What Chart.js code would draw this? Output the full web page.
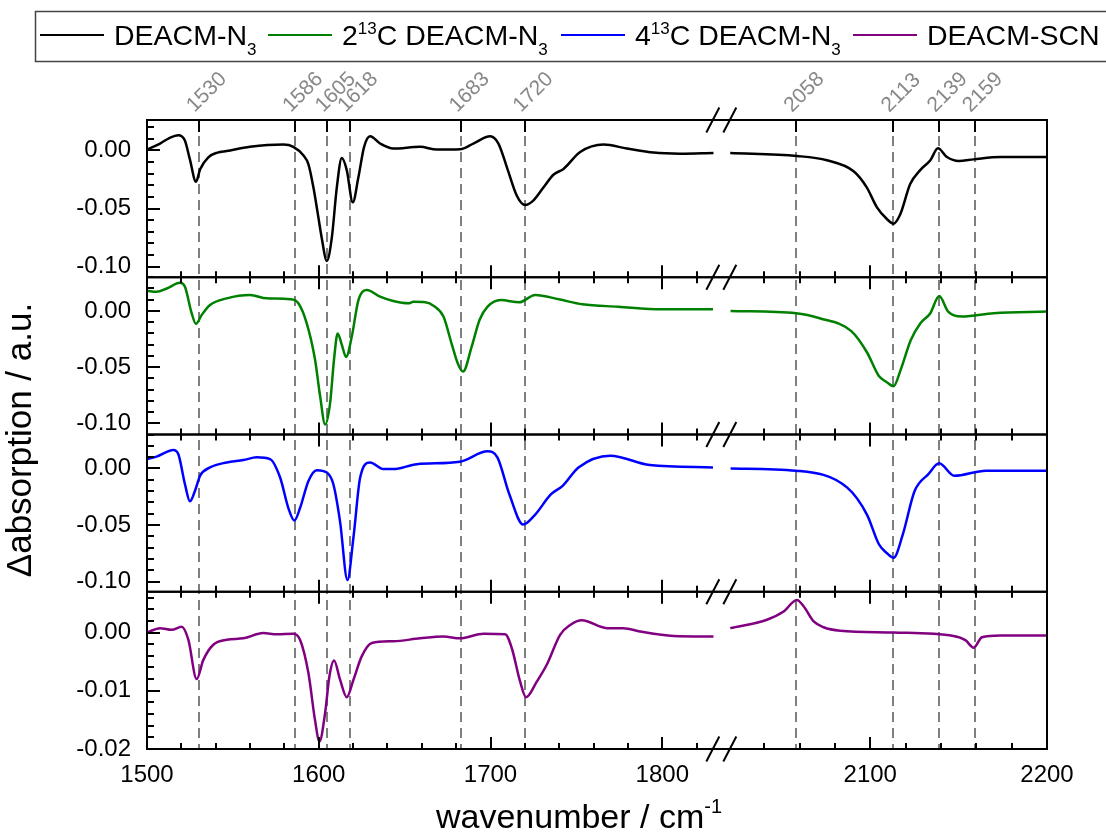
<!DOCTYPE html>
<html>
<head>
<meta charset="utf-8">
<script src="https://cdn.jsdelivr.net/npm/chart.js@4.4.1/dist/chart.umd.min.js"></script>
<style>
  html, body { margin: 0; padding: 0; background: #ffffff; }
  #wrap { width: 1106px; height: 832px; position: relative; }
</style>
</head>
<body>
<div id="wrap"><canvas id="chart" width="1106" height="832"></canvas></div>
<script>
// ---- Spectra: wavenumber (cm^-1) and difference absorption for each sample ----
const n3Wn  = [1500, 1507.6, 1513, 1518.2, 1522, 1525, 1528.5, 1531, 1535.7, 1541, 1546.4, 1560, 1579.4, 1585.2, 1591, 1594, 1596.9, 1599.5, 1601.7, 1604.7, 1607.6, 1610.5, 1613.4, 1616.3, 1619.8, 1623.1, 1626.4, 1629.9, 1635.7, 1643.4, 1659, 1668.7, 1682.3, 1690, 1699.8, 1704.6, 1709.5, 1715.3, 1720.2, 1725, 1730.8, 1736.6, 1742.5, 1752.2, 1765.8, 1779.4, 1794.9, 1810.4, 1829.8,
               2020.8, 2058.5, 2075.5, 2090.6, 2098.1, 2103.8, 2109.4, 2113.2, 2117, 2122.6, 2128.3, 2134, 2138.3, 2143.4, 2150, 2158.5, 2173.6, 2200];
const n3Abs = [0.0006, 0.0058, 0.0105, 0.013, 0.0086, -0.008, -0.027, -0.016, -0.006, -0.002, -0.0006, 0.003, 0.0049, 0.003, -0.0043, -0.012, -0.032, -0.055, -0.075, -0.095, -0.075, -0.032, -0.0066, -0.017, -0.0447, -0.023, 0.003, 0.012, 0.0058, 0.0015, 0.003, 0.0006, 0.0009, 0.0058, 0.012, 0.0058, -0.0144, -0.039, -0.047, -0.043, -0.032, -0.021, -0.016, -0.0015, 0.0049, 0.0015, -0.002, -0.0029, -0.0023,
               -0.0023, -0.0049, -0.0086, -0.018, -0.032, -0.049, -0.059, -0.063, -0.055, -0.029, -0.017, -0.0086, 0.0017, -0.0058, -0.0092, -0.0078, -0.0058, -0.0058];

const c2Wn  = [1500, 1505.6, 1511.5, 1519.2, 1522.1, 1526, 1528.5, 1531.9, 1536.7, 1546.4, 1560, 1569.7, 1583.3, 1588.1, 1593, 1597.8, 1600.8, 1603.7, 1606.6, 1608.9, 1611, 1613.4, 1615.9, 1619.2, 1623.1, 1628, 1635.7, 1643.4, 1652.2, 1655.1, 1662, 1667, 1672.6, 1677.5, 1681, 1684, 1689, 1693.6, 1698.3, 1706, 1716.7, 1726, 1739.7, 1753.5, 1774.3, 1799.5, 1829.5,
               2021, 2058, 2071.4, 2089.3, 2098.2, 2104.9, 2109, 2113.2, 2117.3, 2122.9, 2128.4, 2134, 2139, 2144.1, 2151.9, 2169.9, 2200];
const c2Abs = [0.018, 0.017, 0.020, 0.025, 0.0215, -0.002, -0.0115, -0.0035, 0.0053, 0.0112, 0.0142, 0.0112, 0.0104, 0.0068, -0.011, -0.043, -0.076, -0.101, -0.082, -0.043, -0.020, -0.030, -0.041, -0.023, 0.0097, 0.0186, 0.0127, 0.0088, 0.0068, 0.0082, 0.0078, 0.0045, -0.005, -0.030, -0.047, -0.054, -0.032, -0.008, 0.0038, 0.0097, 0.0077, 0.0142, 0.0104, 0.0059, 0.0038, 0.0015, 0.0015,
               0.0, -0.002, -0.0065, -0.018, -0.037, -0.058, -0.063, -0.067, -0.052, -0.026, -0.011, -0.002, 0.0133, -0.0006, -0.005, -0.002, -0.0006];

const c4Wn  = [1500, 1505.6, 1515.3, 1518.2, 1522.1, 1525, 1527.9, 1530.9, 1536.7, 1546.4, 1556.1, 1563.9, 1571.6, 1577.5, 1582.3, 1585.8, 1589.1, 1594, 1598.8, 1604.7, 1608.5, 1612.4, 1616.7, 1620.2, 1624.1, 1629.9, 1637.6, 1643.4, 1657.1, 1682.2, 1698.3, 1704, 1711, 1719, 1725.9, 1735.1, 1742, 1751.2, 1769.7, 1792.7, 1829.5,
               2021, 2058, 2087, 2098.2, 2104.9, 2109.5, 2113.2, 2118.4, 2125.1, 2132.9, 2139, 2147.5, 2165.4, 2200];
const c4Abs = [0.0083, 0.0104, 0.0163, 0.0127, -0.014, -0.029, -0.020, -0.0065, 0.0009, 0.0053, 0.0074, 0.0098, 0.0083, -0.008, -0.035, -0.046, -0.035, -0.011, -0.0015, -0.0036, -0.014, -0.047, -0.0986, -0.061, -0.008, 0.0053, -0.0006, -0.0006, 0.0038, 0.006, 0.0151, 0.0098, -0.023, -0.0496, -0.041, -0.023, -0.0154, 0.0009, 0.0113, 0.003, 0.0009,
               0.0, -0.002, -0.017, -0.041, -0.067, -0.075, -0.079, -0.0585, -0.020, -0.005, 0.0045, -0.0065, -0.002, -0.002];

const scnWn  = [1500, 1507.6, 1514.4, 1520.2, 1524.1, 1528.9, 1532.8, 1538.6, 1546.4, 1556.1, 1567.7, 1575.5, 1585.2, 1589.1, 1594, 1597.8, 1600.4, 1603.7, 1606.2, 1608.9, 1612.4, 1616.3, 1620.2, 1625, 1630.9, 1643.4, 1659, 1672.6, 1682.3, 1695.9, 1708.5, 1712.4, 1717.2, 1720.7, 1727, 1732.8, 1740.5, 1746.4, 1753.2, 1767.7, 1777.4, 1787.1, 1806.5, 1829.8,
                2020.8, 2041.6, 2051, 2058.5, 2062.3, 2068, 2073.6, 2083, 2113.2, 2147.1, 2153.8, 2158.5, 2163.2, 2173.6, 2200];
const scnAbs = [0.0, 0.00075, 0.00046, 0.001, -0.00125, -0.008, -0.0047, -0.0021, -0.00125, -0.001, -0.0001, -0.0003, -0.0002, -0.00125, -0.007, -0.015, -0.0187, -0.0138, -0.0075, -0.0048, -0.0081, -0.0111, -0.0081, -0.0041, -0.0018, -0.0015, -0.001, -0.0007, -0.001, -0.0002, -0.0003, -0.0027, -0.0084, -0.0111, -0.0084, -0.0055, -0.0004, 0.0013, 0.0021, 0.00075, 0.00075, 0.00017, -0.0006, -0.0007,
                0.00075, 0.0022, 0.0036, 0.0056, 0.0045, 0.0019, 0.0009, 0.0003, 0.0, -0.0006, -0.0013, -0.0026, -0.0008, -0.0005, -0.0005];

// ---- Legend / axis text ----
const seriesNames = ['DEACM-N_{3}', '2^{13}C DEACM-N_{3}', '4^{13}C DEACM-N_{3}', 'DEACM-SCN'];
const seriesColors = ['#000000', '#008000', '#0000ff', '#800080'];
const xTitle = 'wavenumber / cm^{-1}';
const yTitle = '\u0394absorption / a.u.';

// ---- Marked band positions (cm^-1) ----
const refLines = [1530, 1586, 1605, 1618, 1683, 1720, 2058, 2113, 2139, 2159];

// ---- Tick definitions ----
const xMajorTicks = [1500, 1600, 1700, 1800, 2100, 2200];
const xMinorStep = 20;
const yMajorTicksN3 = [0.00, -0.05, -0.10];
const yMajorTicksSCN = [0.00, -0.01, -0.02];

// ---- Broken wavenumber axis: two segments joined by a short gap ----
const SEG_LEFT = [1500, 1830];
const SEG_RIGHT = [2020, 2200];
const K_LEFT = 1.717, K_RIGHT = 1.767, GAP = 15;
const U_LEFT_END = (SEG_LEFT[1] - SEG_LEFT[0]) * K_LEFT;
const U_RIGHT_START = U_LEFT_END + GAP;
const U_MAX = U_RIGHT_START + (SEG_RIGHT[1] - SEG_RIGHT[0]) * K_RIGHT;

function toAxis(w) {
  if (w <= SEG_LEFT[1] + 0.5) return (w - SEG_LEFT[0]) * K_LEFT;
  return U_RIGHT_START + (w - SEG_RIGHT[0]) * K_RIGHT;
}
function fromAxis(u) {
  if (u <= U_LEFT_END + GAP / 2) return SEG_LEFT[0] + u / K_LEFT;
  return SEG_RIGHT[0] + (u - U_RIGHT_START) / K_RIGHT;
}

function buildPoints(wn, abs) {
  const pts = [];
  for (let i = 0; i < wn.length; i++) {
    if (i > 0 && wn[i - 1] <= SEG_LEFT[1] + 0.5 && wn[i] >= SEG_RIGHT[0] - 0.5) {
      pts.push({ x: U_LEFT_END + GAP / 2, y: null });
    }
    pts.push({ x: toAxis(wn[i]), y: abs[i] });
  }
  return pts;
}

const FONT = '"Liberation Sans", Arial, Helvetica, sans-serif';

// ---- Rich text with ^{..} superscripts and _{..} subscripts ----
function parseRich(str) {
  const parts = [];
  const re = /(\^\{([^}]*)\})|(_\{([^}]*)\})|([^\^_]+)/g;
  let m;
  while ((m = re.exec(str)) !== null) {
    if (m[2] !== undefined) parts.push({ t: m[2], mode: 'sup' });
    else if (m[4] !== undefined) parts.push({ t: m[4], mode: 'sub' });
    else parts.push({ t: m[5], mode: 'n' });
  }
  return parts;
}
function richWidth(ctx, parts, size, small) {
  let w = 0;
  parts.forEach(p => {
    ctx.font = (p.mode === 'n' ? size : small) + 'px ' + FONT;
    w += ctx.measureText(p.t).width;
  });
  return w;
}
function drawRich(ctx, parts, x, y, size, small, supDy, subDy) {
  parts.forEach(p => {
    ctx.font = (p.mode === 'n' ? size : small) + 'px ' + FONT;
    const dy = p.mode === 'sup' ? -supDy : (p.mode === 'sub' ? subDy : 0);
    ctx.fillText(p.t, x, y + dy);
    x += ctx.measureText(p.t).width;
  });
  return x;
}

function minorValues(min, max, step) {
  const out = [];
  const a = Math.ceil(min / step - 1e-9), b = Math.floor(max / step + 1e-9);
  for (let i = a; i <= b; i++) out.push(+(i * step).toFixed(6));
  return out;
}

const panelIds = ['p1', 'p2', 'p3', 'p4'];
const panelMinor = { p1: 0.01, p2: 0.01, p3: 0.01, p4: 0.002 };

const frameAndLabels = {
  id: 'frameAndLabels',
  beforeDatasetsDraw(chart) {
    const { ctx, chartArea, scales } = chart;
    ctx.save();
    ctx.strokeStyle = '#7f7f7f';
    ctx.lineWidth = 2;
    ctx.setLineDash([10, 6]);
    refLines.forEach(w => {
      const x = Math.round(scales.x.getPixelForValue(toAxis(w)));
      ctx.beginPath();
      ctx.moveTo(x, chartArea.top);
      ctx.lineTo(x, chartArea.bottom);
      ctx.stroke();
    });
    ctx.restore();
  },
  afterDatasetsDraw(chart) {
    const { ctx, chartArea, scales } = chart;
    const xs = scales.x;
    const L = chartArea.left, R = chartArea.right;
    ctx.save();
    ctx.strokeStyle = '#000';
    ctx.lineWidth = 2;
    ctx.lineCap = 'butt';

    const xMinor = [];
    [SEG_LEFT, SEG_RIGHT].forEach(seg => {
      for (let w = Math.ceil(seg[0] / xMinorStep) * xMinorStep; w <= seg[1]; w += xMinorStep) {
        if (w === SEG_RIGHT[0]) continue;
        if (!xMajorTicks.includes(w)) xMinor.push(w);
      }
    });

    panelIds.forEach((id, idx) => {
      const s = scales[id];
      const top = s.top, bottom = s.bottom;
      // frame
      ctx.strokeRect(L, top, R - L, bottom - top);
      // x ticks, pointing into the panel
      const tick = (w, len) => {
        const x = Math.round(xs.getPixelForValue(toAxis(w)));
        ctx.beginPath();
        ctx.moveTo(x, bottom); ctx.lineTo(x, bottom - len);
        if (idx > 0) { ctx.moveTo(x, top); ctx.lineTo(x, top + len); }
        ctx.stroke();
      };
      xMajorTicks.forEach(w => tick(w, 12));
      xMinor.forEach(w => tick(w, 6));
      if (idx === 0) {
        refLines.forEach(w => {
          const x = Math.round(xs.getPixelForValue(toAxis(w)));
          ctx.beginPath(); ctx.moveTo(x, top); ctx.lineTo(x, top + 12); ctx.stroke();
        });
      }
      // y ticks
      const majors = id === 'p4' ? yMajorTicksSCN : yMajorTicksN3;
      minorValues(s.min, s.max, panelMinor[id]).forEach(v => {
        const isMajor = majors.some(m => Math.abs(m - v) < 1e-6);
        const y = Math.round(s.getPixelForValue(v));
        ctx.beginPath(); ctx.moveTo(L, y); ctx.lineTo(L + (isMajor ? 13 : 7), y); ctx.stroke();
      });
    });

    // axis-break marks
    const xb1 = xs.getPixelForValue(U_LEFT_END) - 1;
    const xb2 = xs.getPixelForValue(U_RIGHT_START) + 1;
    const rows = [scales.p1.top].concat(panelIds.map(id => scales[id].bottom));
    rows.forEach(y => {
      [xb1, xb2].forEach(cx => {
        ctx.beginPath();
        ctx.moveTo(cx - 6.5, y + 12.5);
        ctx.lineTo(cx + 6.5, y - 12.5);
        ctx.stroke();
      });
    });
    ctx.restore();
  },
  afterDraw(chart) {
    const { ctx, scales } = chart;
    ctx.save();

    // band labels above the top panel
    ctx.fillStyle = '#888888';
    ctx.font = '21px ' + FONT;
    ctx.textAlign = 'left';
    ctx.textBaseline = 'alphabetic';
    refLines.forEach(w => {
      const x = scales.x.getPixelForValue(toAxis(w));
      ctx.save();
      ctx.translate(x - 4, 113);
      ctx.rotate(-Math.PI / 4);
      ctx.fillText(String(w), 0, 0);
      ctx.restore();
    });

    // legend box
    ctx.strokeStyle = '#444';
    ctx.lineWidth = 1.5;
    ctx.strokeRect(35.5, 11.5, 1100, 50);
    const lineStarts = [40, 268, 561, 853];
    ctx.fillStyle = '#000';
    seriesNames.forEach((name, i) => {
      const x0 = lineStarts[i];
      ctx.strokeStyle = seriesColors[i];
      ctx.lineWidth = 2;
      ctx.beginPath(); ctx.moveTo(x0, 35); ctx.lineTo(x0 + 64, 35); ctx.stroke();
      drawRich(ctx, parseRich(name), x0 + 74, 45, 28.5, 17, 11, 10);
    });

    // x title
    const xParts = parseRich(xTitle);
    const xw = richWidth(ctx, xParts, 34, 20);
    drawRich(ctx, xParts, 579 - xw / 2, 828, 34, 20, 15, 8);

    // y title
    ctx.save();
    ctx.translate(31, 440);
    ctx.rotate(-Math.PI / 2);
    ctx.font = '35px ' + FONT;
    ctx.textAlign = 'center';
    ctx.fillText(yTitle, 0, 0);
    ctx.restore();

    ctx.restore();
  }
};

function panelAxis(min, max, majors) {
  return {
    type: 'linear', position: 'left', stack: 'panels', stackWeight: 1,
    min: min, max: max, offset: false,
    grid: { display: false, drawTicks: false },
    border: { display: false },
    afterBuildTicks: s => { s.ticks = majors.map(v => ({ value: v })); },
    afterFit: s => { s.width = 147; },
    ticks: { padding: 16, color: '#000', font: { family: FONT, size: 24 }, callback: v => Number(v).toFixed(2) }
  };
}

const seriesData = [
  { wn: n3Wn, abs: n3Abs, axis: 'p1' },
  { wn: c2Wn, abs: c2Abs, axis: 'p2' },
  { wn: c4Wn, abs: c4Abs, axis: 'p3' },
  { wn: scnWn, abs: scnAbs, axis: 'p4' }
];

new Chart(document.getElementById('chart'), {
  type: 'line',
  data: {
    datasets: seriesData.map((s, i) => ({
      label: seriesNames[i],
      data: buildPoints(s.wn, s.abs),
      borderColor: seriesColors[i],
      borderWidth: 2.5,
      pointRadius: 0,
      fill: false,
      spanGaps: false,
      cubicInterpolationMode: 'monotone',
      xAxisID: 'x',
      yAxisID: s.axis
    }))
  },
  options: {
    responsive: false,
    animation: false,
    devicePixelRatio: 1,
    layout: { padding: { top: 120, right: 59, bottom: 0, left: 0 } },
    plugins: { legend: { display: false }, tooltip: { enabled: false } },
    scales: {
      x: {
        type: 'linear', position: 'bottom', min: 0, max: U_MAX,
        grid: { display: false, drawTicks: false },
        border: { display: false },
        afterBuildTicks: s => { s.ticks = xMajorTicks.map(w => ({ value: toAxis(w) })); },
        afterFit: s => { s.height = 83; },
        ticks: { autoSkip: false, maxRotation: 0, padding: 12, color: '#000', font: { family: FONT, size: 24 },
                 callback: v => String(Math.round(fromAxis(v))) }
      },
      p4: panelAxis(-0.02, 0.007, yMajorTicksSCN),
      p3: panelAxis(-0.109, 0.030, yMajorTicksN3),
      p2: panelAxis(-0.110, 0.030, yMajorTicksN3),
      p1: panelAxis(-0.109, 0.026, yMajorTicksN3)
    }
  },
  plugins: [frameAndLabels]
});
</script>
</body>
</html>
